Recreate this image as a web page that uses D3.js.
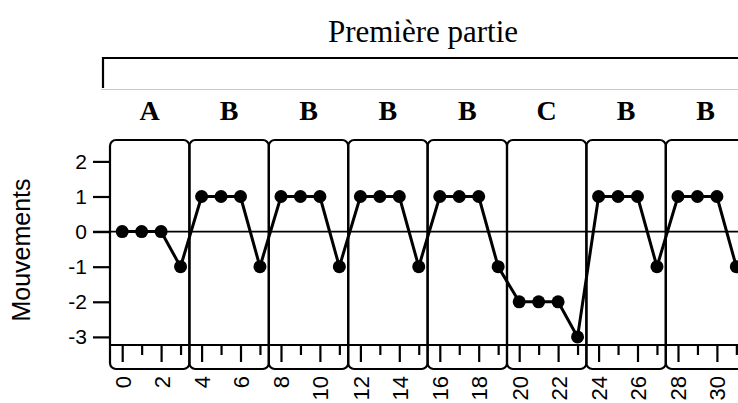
<!DOCTYPE html>
<html><head><meta charset="utf-8">
<script src="https://cdn.jsdelivr.net/npm/d3@7"></script>
<style>html,body{margin:0;padding:0;background:#fff;overflow:hidden}</style>
</head><body>
<svg id="chart" width="738" height="403"></svg>
<script>
const title = "Première partie";
const panelLabels = ["A","B","B","B","B","C","B","B"];
const steps = [0,1,2,3,4,5,6,7,8,9,10,11,12,13,14,15,16,17,18,19,20,21,22,23,24,25,26,27,28,29,30,31];
const movements = [0,0,0,-1, 1,1,1,-1, 1,1,1,-1, 1,1,1,-1, 1,1,1,-1, -2,-2,-2,-3, 1,1,1,-1, 1,1,1,-1];
const yTicks = [-3,-2,-1,0,1,2];
const xTickLabels = ["0","2","4","6","8","10","12","14","16","18","20","22","24","26","28","30"];
const yLabel = "Mouvements";

const svg = d3.select("#chart");
const perPanel = 4;
const panelIdx = d3.range(panelLabels.length);

const panelX = d3.scaleBand().domain(panelIdx).range([110, 745.2]).padding(0);
const bw = panelX.bandwidth();
const panelTop = 140, panelBottom = 369, axisY = 345;
const y = d3.scaleLinear().domain([-3, 2]).range([336.9, 161.4]);

function innerScale(k) {
  return d3.scaleLinear().domain([k*perPanel - 0.627, k*perPanel + 3.455]).range([0, bw]);
}
const xScales = panelIdx.map(innerScale);
function xPos(s) { const k = Math.floor(s / perPanel); return panelX(k) + xScales[k](s); }

const sans = "'Liberation Sans', Arial, sans-serif";
const serif = "'Liberation Serif', 'Times New Roman', serif";

// Title
svg.append("text").attr("x", 423).attr("y", 42).attr("text-anchor", "middle")
  .attr("font-family", serif).attr("font-size", 31).text(title);

// Bracket
svg.append("path").attr("d", "M101,89.5H760").attr("stroke", "#c8c8c8").attr("stroke-width", 1).attr("fill", "none");
svg.append("path").attr("d", "M103,88V58H760").attr("stroke", "#000").attr("stroke-width", 2.2).attr("fill", "none");

// Panel labels
svg.selectAll("text.plab").data(panelLabels).join("text").attr("class", "plab")
  .attr("x", (d, i) => panelX(i) + bw / 2).attr("y", 120).attr("text-anchor", "middle")
  .attr("font-family", serif).attr("font-weight", "bold").attr("font-size", 28).text(d => d);

// Zero reference line
svg.append("line").attr("x1", 93).attr("x2", 760).attr("y1", y(0)).attr("y2", y(0))
  .attr("stroke", "#000").attr("stroke-width", 1.8);

// Panels + x axes
panelIdx.forEach(k => {
  const g = svg.append("g").attr("transform", `translate(${panelX(k)},0)`);
  g.append("rect").attr("x", 0).attr("y", panelTop).attr("width", bw).attr("height", panelBottom - panelTop)
    .attr("rx", 6).attr("ry", 6).attr("fill", "none").attr("stroke", "#000").attr("stroke-width", 2.2);
  const vals = steps.filter(s => Math.floor(s / perPanel) === k);
  const ax = d3.axisBottom(xScales[k]).tickValues(vals).tickSize(17).tickPadding(0)
    .tickFormat(d => xTickLabels.includes(String(d)) ? String(d) : "");
  const ga = g.append("g").attr("transform", `translate(0,${axisY})`).call(ax);
  ga.select(".domain").attr("d", `M0,0H${bw}`).attr("stroke-width", 2.2);
  ga.selectAll(".tick line").attr("stroke-width", 2.2).attr("y2", d => d % 2 === 0 ? 17 : 10);
  ga.selectAll(".tick text").attr("transform", "rotate(-90)").attr("x", -31).attr("y", 0)
    .attr("dy", "0.36em").attr("text-anchor", "end").attr("font-family", sans).attr("font-size", 22).attr("fill", "#000");
});

// Y axis
const gy = svg.append("g").attr("transform", "translate(110,0)")
  .call(d3.axisLeft(y).tickValues(yTicks).tickSize(17).tickPadding(6).tickFormat(d => String(d)));
gy.select(".domain").remove();
gy.selectAll(".tick line").attr("stroke-width", 2.2);
gy.selectAll(".tick text").attr("font-family", sans).attr("font-size", 21).attr("fill", "#000");

// Y label
svg.append("text").attr("transform", "translate(30,250) rotate(-90)").attr("text-anchor", "middle")
  .attr("font-family", sans).attr("font-size", 25).text(yLabel);

// Series line and points
const pts = steps.map((s, i) => [xPos(s), y(movements[i])]);
svg.append("path").attr("d", d3.line()(pts)).attr("fill", "none").attr("stroke", "#000")
  .attr("stroke-width", 3).attr("stroke-linejoin", "round");
svg.selectAll("circle.pt").data(pts).join("circle").attr("class", "pt")
  .attr("cx", d => d[0]).attr("cy", d => d[1]).attr("r", 6.5).attr("fill", "#000");
</script>
</body></html>
